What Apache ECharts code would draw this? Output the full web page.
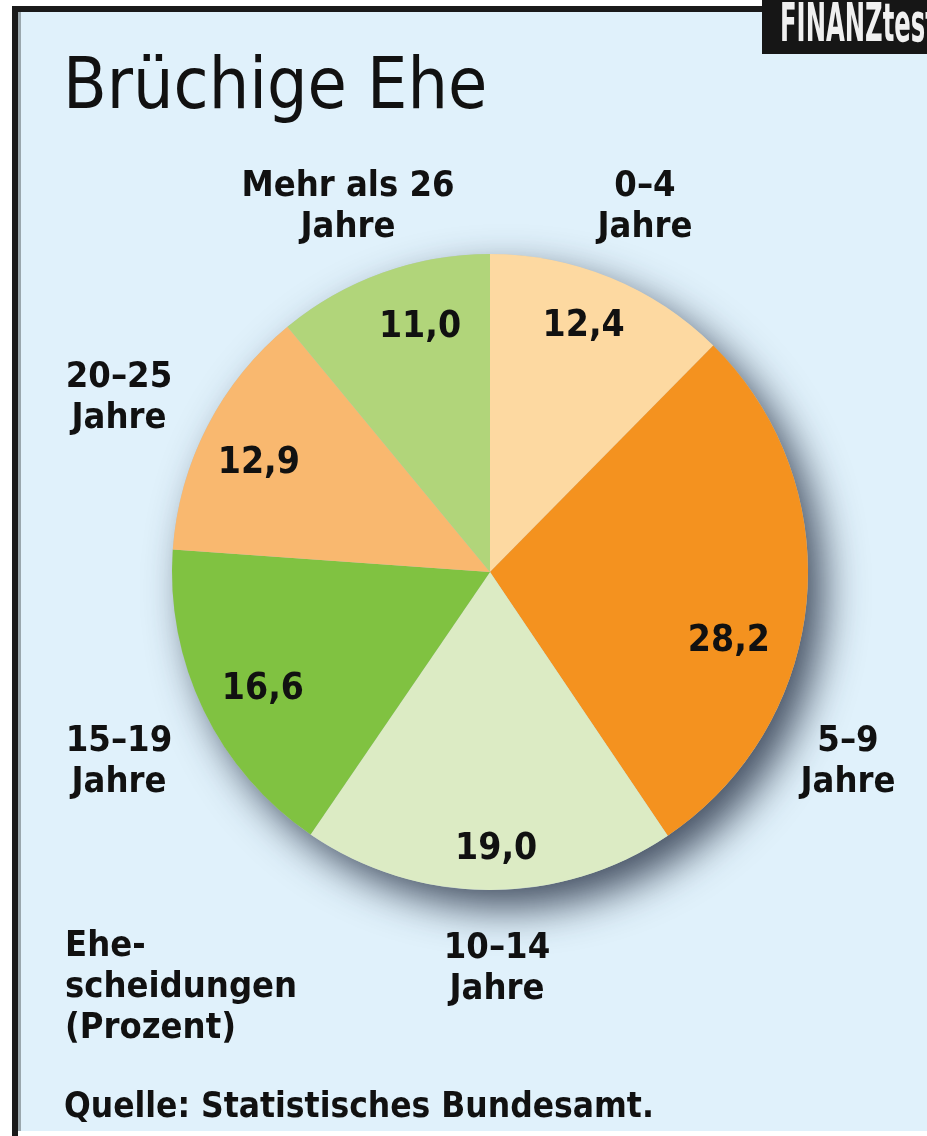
<!DOCTYPE html>
<html>
<head>
<meta charset="utf-8">
<title>Brüchige Ehe</title>
<script src="https://cdn.jsdelivr.net/npm/echarts@6/dist/echarts.min.js"></script>
<style>
  html, body { margin: 0; padding: 0; background: #ffffff; }
  #chart { width: 927px; height: 1136px; }
</style>
</head>
<body>
<div id="chart"></div>
<script>
// Ehedauer-Gruppen, Anteil an Ehescheidungen (Prozent)
var categories = ['0–4', '5–9', '10–14', '15–19', '20–25', 'Mehr als 26'];
var values = [12.4, 28.2, 19.0, 16.6, 12.9, 11.0];
var colors = ['#fdd9a1', '#f4921f', '#dcebc4', '#80c241', '#f9b86f', '#b1d57a'];

// where the outside category labels sit (centre of text block)
var labelPos = [[645, 207], [848, 762], [497, 969], [119, 762], [119, 398], [348, 207]];
// small nudges of the value labels, as in the original
var valueShift = [[-5, -5], [-20, 45], [7, 17], [7, 4], [0, 10], [18, 0]];

var FONT = '"DejaVu Sans Condensed", "DejaVu Sans", sans-serif';
var CX = 490, CY = 572, R = 318;

var total = values.reduce(function (a, b) { return a + b; }, 0);

var chart = echarts.init(document.getElementById('chart'));

var graphics = [
    // light blue panel
    { type: 'rect', shape: { x: 12, y: 6, width: 915, height: 1125 }, style: { fill: '#e0f1fb' }, z: -10 },
    // frame top + left
    { type: 'rect', shape: { x: 12, y: 6, width: 760, height: 6 }, style: { fill: '#1a1a1a' }, z: -5 },
    { type: 'rect', shape: { x: 12, y: 6, width: 6, height: 1130 }, style: { fill: '#1a1a1a' }, z: -5 },
    { type: 'rect', shape: { x: 18, y: 12, width: 3, height: 1119 }, style: { fill: '#9aa7ad' }, z: -5 },
    // logo block
    { type: 'rect', shape: { x: 762, y: 0, width: 165, height: 54 }, style: { fill: '#161616' }, z: -4 },
    {
        type: 'text', x: 780, y: 0, scaleX: 0.5, z: 5,
        style: { text: 'FINANZtest', fill: '#f0f0f0', font: 'bold 54px ' + FONT, textAlign: 'left' }
    },
    // title
    {
        type: 'text', left: 63, top: 54,
        style: { text: 'Brüchige Ehe', fill: '#111', font: 'normal 71px ' + FONT }
    },
    // unit note + source
    {
        type: 'text', left: 65, top: 926,
        style: { text: 'Ehe-\nscheidungen\n(Prozent)', fill: '#111', font: 'bold 36px ' + FONT, lineHeight: 41 }
    },
    {
        type: 'text', left: 64, top: 1090,
        style: { text: 'Quelle: Statistisches Bundesamt.', fill: '#111', font: 'bold 35px ' + FONT }
    }
];

categories.forEach(function (c, i) {
    graphics.push({
        type: 'text',
        x: labelPos[i][0], y: labelPos[i][1],
        style: {
            text: c + '\nJahre', fill: '#111', font: 'bold 36px ' + FONT,
            align: 'center', verticalAlign: 'middle', lineHeight: 41
        }
    });
});

var pieData = values.map(function (v, i) {
    return { name: categories[i], value: v, itemStyle: { color: colors[i] } };
});

chart.setOption({
    backgroundColor: '#ffffff',
    animation: false,
    graphic: graphics,
    series: [
        {
            // drop shadow under the whole disc
            type: 'pie', silent: true, z: 1,
            center: [CX, CY], radius: [0, R],
            label: { show: false }, labelLine: { show: false },
            itemStyle: {
                color: '#b8c4cc',
                shadowBlur: 40, shadowOffsetX: 16, shadowOffsetY: 18,
                shadowColor: 'rgba(30, 40, 60, 0.8)'
            },
            data: [{ name: 'Summe', value: total }]
        },
        {
            type: 'pie', silent: true, z: 2,
            center: [CX, CY], radius: [0, R],
            startAngle: 90, clockwise: true,
            label: { show: false }, labelLine: { show: false },
            itemStyle: { borderWidth: 0 },
            data: pieData
        },
        {
            // transparent ring only to place the value labels
            type: 'pie', silent: true, z: 3,
            center: [CX, CY], radius: [196, R],
            startAngle: 90, clockwise: true,
            itemStyle: { color: 'rgba(0,0,0,0)' },
            label: {
                show: true, position: 'inside',
                formatter: function (p) { return p.value.toFixed(1).replace('.', ','); },
                color: '#111', fontFamily: FONT, fontWeight: 'bold', fontSize: 37
            },
            labelLayout: function (p) {
                var s = valueShift[p.dataIndex];
                return { dx: s[0], dy: s[1] };
            },
            labelLine: { show: false },
            data: values.map(function (v, i) { return { name: categories[i], value: v }; })
        }
    ]
});
</script>
</body>
</html>
